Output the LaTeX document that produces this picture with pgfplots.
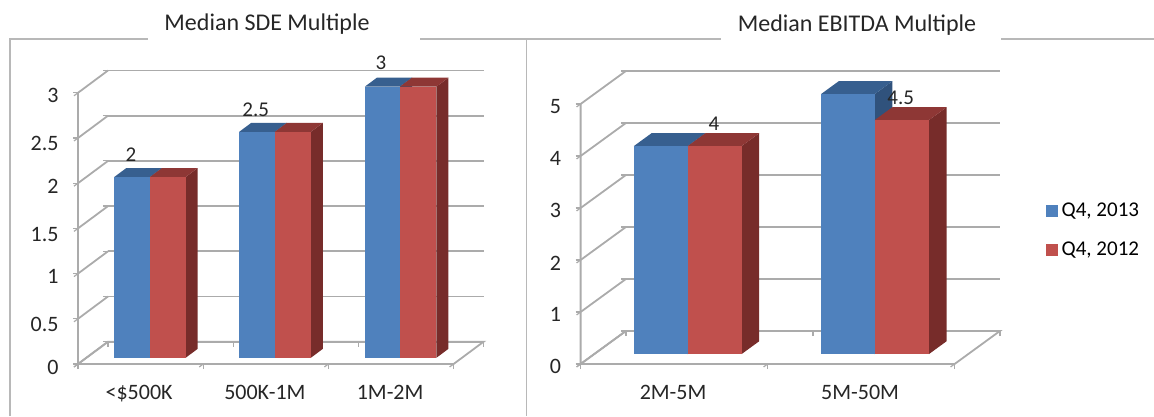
\documentclass[border=0pt]{standalone}
\usepackage{fontspec}
\setmainfont{Carlito}
\usepackage{pgfplots}
\pgfplotsset{compat=1.18}

\definecolor{bfront}{HTML}{4F81BD}
\definecolor{btop}{HTML}{375F8F}
\definecolor{bside}{HTML}{30527C}
\definecolor{rfront}{HTML}{C0504D}
\definecolor{rtop}{HTML}{8E3735}
\definecolor{rside}{HTML}{772C2A}
\definecolor{gridc}{HTML}{ABABAB}
\definecolor{framec}{HTML}{B8B8B8}

% one 3D column: x0 x1 y0 y1 value front top side
\newcommand{\column}[8]{%
  \addplot3[fill=#8, draw=none, mark=none, forget plot] coordinates {(#2,#3,0) (#2,#4,0) (#2,#4,#5) (#2,#3,#5)};
  \addplot3[fill=#7, draw=none, mark=none, forget plot] coordinates {(#1,#3,#5) (#2,#3,#5) (#2,#4,#5) (#1,#4,#5)};
  \addplot3[fill=#6, draw=none, mark=none, forget plot] coordinates {(#1,#3,0) (#2,#3,0) (#2,#3,#5) (#1,#3,#5)};
}

\pgfplotsset{
  bars3d/.style={
    anchor=origin, clip=false,
    axis line style={draw=none},
    ytick=\empty,
    xmajorgrids=false, zmajorgrids=true,
    major grid style={gridc, line width=1.8pt},
    major tick length=5pt, minor tick length=5pt,
    tick align=outside,
    tick pos=left,
    tick style={gridc, line width=1.2pt},
    major x tick style={draw=none},
    ticklabel style={font=\fontsize{22}{24}\selectfont, text=black!85},
    xticklabel style={xshift=8.5pt, yshift=-15pt},
    zticklabel style={xshift=-12pt, yshift=3pt},
  },
  floorline/.style={gridc, line width=1.8pt, mark=none, forget plot},
}

\begin{document}
\begin{tikzpicture}
\path[use as bounding box] (0,0) rectangle (1154pt,416pt);

% page layer: frame lines, titles, legend
\begin{axis}[
  at={(0pt,0pt)}, anchor=south west, scale only axis,
  width=1154pt, height=416pt,
  xmin=0, xmax=1154, ymin=0, ymax=416, y dir=reverse,
  axis lines=none, clip=false,
  legend style={at={(axis cs:1046,201)}, anchor=north west, draw=none, fill=none,
    font=\fontsize{21}{23}\selectfont, row sep=20pt, column sep=1.5pt,
    legend cell align=left, inner sep=0pt},
  legend image code/.code={\fill[#1] (0pt,-6pt) rectangle (12pt,6pt);},
]
\addplot[framec, line width=1.6pt, mark=none, forget plot] coordinates {(10,416) (10,39) (148,39)};
\addplot[framec, line width=1.6pt, mark=none, forget plot] coordinates {(420,39) (721,39)};
\addplot[framec, line width=1.6pt, mark=none, forget plot] coordinates {(526.5,39) (526.5,416)};
\addplot[framec, line width=1.6pt, mark=none, forget plot] coordinates {(1001,39) (1154,39)};
\node[font=\fontsize{24}{26}\selectfont, text=black!85] at (axis cs:267,24) {Median SDE Multiple};
\node[font=\fontsize{24}{26}\selectfont, text=black!85] at (axis cs:857,25) {Median EBITDA Multiple};
\addlegendimage{fill=bfront, draw=none}
\addlegendentry{Q4, 2013}
\addlegendimage{fill=rfront, draw=none}
\addlegendentry{Q4, 2012}
\end{axis}

% left chart
\begin{axis}[
  bars3d, at={(78pt,52pt)},
  x={(125.2pt,0pt)}, y={(30pt,22.3pt)}, z={(0pt,90.4pt)},
  xmin=0, xmax=3, ymin=0, ymax=1, zmin=0, zmax=3,
  xtick={0.5,1.5,2.5}, xticklabels={<\$500K,500K-1M,1M-2M},
  minor xtick={0,1,2,3},
  ztick={0,0.5,1,1.5,2,2.5,3}, zticklabels={0,0.5,1,1.5,2,2.5,3},
]
\addplot3[floorline] coordinates {(0,0,3) (0,0,0) (3,0,0) (3,1,0) (0,1,0) (0,0,0)};
\column{0.223}{0.508}{0.28}{0.68}{2}{bfront}{btop}{bside}
\column{0.508}{0.793}{0.28}{0.68}{2}{rfront}{rtop}{rside}
\column{1.221}{1.506}{0.28}{0.68}{2.5}{bfront}{btop}{bside}
\column{1.506}{1.793}{0.28}{0.68}{2.5}{rfront}{rtop}{rside}
\column{2.225}{2.505}{0.28}{0.68}{3}{bfront}{btop}{bside}
\column{2.505}{2.796}{0.28}{0.68}{3}{rfront}{rtop}{rside}
\node[font=\fontsize{21}{23}\selectfont, text=black!85] at (axis cs:0.423,0,2.31) {2};
\node[font=\fontsize{21}{23}\selectfont, text=black!85] at (axis cs:1.42,0,2.81) {2.5};
\node[font=\fontsize{21}{23}\selectfont, text=black!85] at (axis cs:2.42,0,3.33) {3};
\end{axis}

% right chart
\begin{axis}[
  bars3d, at={(580.6pt,52pt)},
  x={(187pt,0pt)}, y={(45.3pt,33pt)}, z={(0pt,52pt)},
  xmin=0, xmax=2, ymin=0, ymax=1, zmin=0, zmax=5,
  xtick={0.5,1.5}, xticklabels={2M-5M,5M-50M},
  minor xtick={0,1,2},
  ztick={0,1,2,3,4,5}, zticklabels={0,1,2,3,4,5},
]
\addplot3[floorline] coordinates {(0,0,5) (0,0,0) (2,0,0) (2,1,0) (0,1,0) (0,0,0)};
\column{0.212}{0.5}{0.30}{0.69}{4}{bfront}{btop}{bside}
\column{0.5}{0.788}{0.30}{0.69}{4}{rfront}{rtop}{rside}
\column{1.213}{1.5}{0.30}{0.69}{5}{bfront}{btop}{bside}
\column{1.5}{1.79}{0.30}{0.69}{4.5}{rfront}{rtop}{rside}
\node[font=\fontsize{21}{23}\selectfont, text=black!85] at (axis cs:0.713,0,4.615) {4};
\node[font=\fontsize{21}{23}\selectfont, text=black!85] at (axis cs:1.712,0,5.11) {4.5};
\end{axis}
\end{tikzpicture}
\end{document}
